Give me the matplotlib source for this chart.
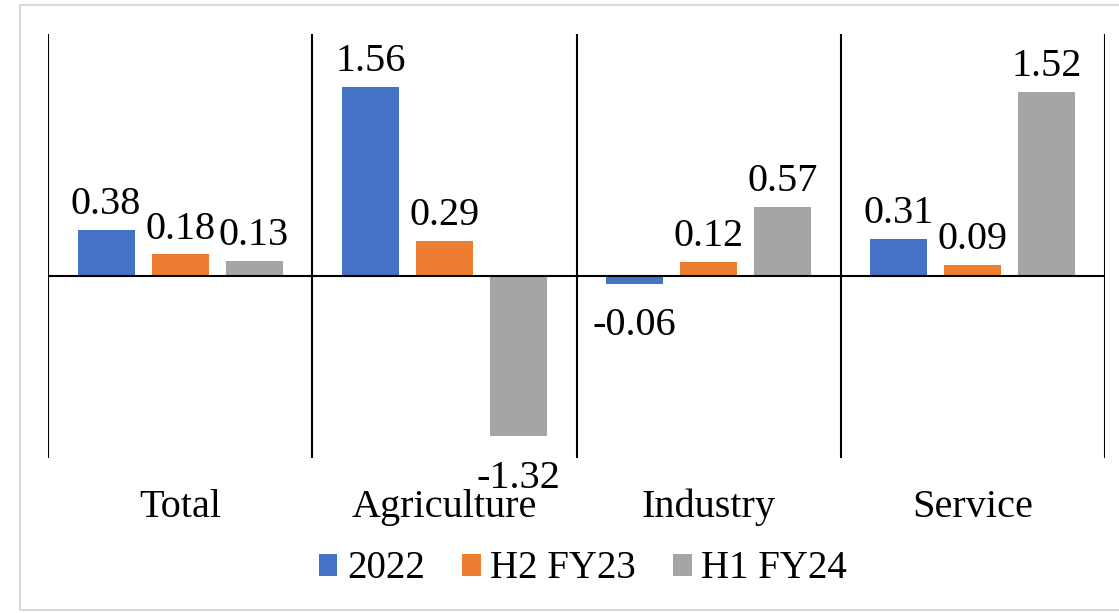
import matplotlib
matplotlib.use("Agg")
import matplotlib.pyplot as plt
import numpy as np
from matplotlib.patches import Rectangle

categories = ["Total", "Agriculture", "Industry", "Service"]
series_names = ["2022", "H2 FY23", "H1 FY24"]
values_2022 = [0.38, 1.56, -0.06, 0.31]
values_h2fy23 = [0.18, 0.29, 0.12, 0.09]
values_h1fy24 = [0.13, -1.32, 0.57, 1.52]
colors = ["#4472C4", "#ED7D31", "#A5A5A5"]

plt.rcParams["font.family"] = ["Liberation Serif", "DejaVu Serif"]

W, H = 1119, 613
fig = plt.figure(figsize=(W / 100, H / 100), dpi=100)

# light outer frame
fig.patches.append(Rectangle((20 / W, 3 / H), 1.2, (608 - 3) / H, transform=fig.transFigure,
                             fill=False, edgecolor="#d9d9d9", linewidth=1.5, zorder=0))

ax = fig.add_axes([48 / W, (H - 458) / H, (1105 - 48) / W, (458 - 34) / H])
ax.set_xlim(-0.5, 3.5)
ax.set_ylim(-1.5, 2.0)

x = np.arange(len(categories))
bw = 57 / 264.25
step = 74 / 264.25
all_series = [values_2022, values_h2fy23, values_h1fy24]
for i, (vals, name, c) in enumerate(zip(all_series, series_names, colors)):
    pos = x + (i - 1) * step
    ax.bar(pos, vals, width=bw, color=c, label=name, zorder=2)
    for px, v in zip(pos, vals):
        if v >= 0:
            ax.annotate(f"{v:.2f}", (px, v), xytext=(0, 5), textcoords="offset points",
                        ha="center", va="bottom", fontsize=29)
        else:
            ax.annotate(f"{v:.2f}", (px, v), xytext=(0, -17), textcoords="offset points",
                        ha="center", va="top", fontsize=29, annotation_clip=False)

# category separators and zero line
for sx in [-0.5, 0.5, 1.5, 2.5, 3.5]:
    ax.axvline(sx, color="black", linewidth=1.5, zorder=3)
ax.axhline(0, color="black", linewidth=1.5, zorder=3)

for s in ax.spines.values():
    s.set_visible(False)
ax.set_yticks([])
ax.set_xticks(x)
ax.set_xticklabels(categories, fontsize=29)
ax.tick_params(axis="x", length=0, pad=22)

leg = fig.legend(loc="center", bbox_to_anchor=(583 / W, 1 - 569 / H), ncol=3, frameon=False,
                 fontsize=28, handlelength=0.48, handleheight=0.48, handletextpad=0.25,
                 columnspacing=0.95)

fig.savefig("out.png", dpi=100)
